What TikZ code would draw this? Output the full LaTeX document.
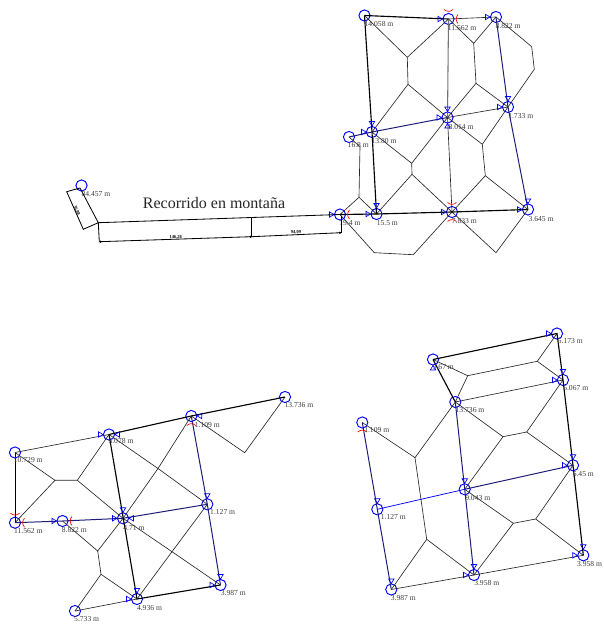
\documentclass[tikz,border=0pt]{standalone}
\usepackage{fontspec}
\setmainfont{Liberation Serif}
\usetikzlibrary{arrows.meta}
\definecolor{azulosc}{RGB}{30,30,120}
\definecolor{gristxt}{RGB}{60,60,60}
\tikzset{
  pozo/.style={circle,draw=blue,line width=0.7pt,minimum size=8.4pt,inner sep=0pt},
  cota/.style={text=gristxt,font=\fontsize{5.7}{6}\selectfont,inner sep=0pt},
  medida/.style={font=\bfseries\fontsize{3.4}{4}\selectfont,inner sep=0pt},
  fino/.style={line width=0.48pt,black!85},
  grueso/.style={line width=0.85pt,black},
  medio/.style={line width=0.62pt,black},
  azul/.style={line width=0.75pt,azulosc},
  tri/.pic={\draw[blue,line width=0.5pt] (-10.5,-2.7) -- (-10.5,2.7) -- (-6,0) -- cycle;},
  rojo/.pic={\draw[red,line width=0.5pt] (-9.5,-4.5) .. controls (-7,-1.5) and (-7,1.5) .. (-9.5,4.5);},
  arriba/.style={rotate=-90},
  abajo/.style={rotate=90},
  derecha/.style={rotate=180}
}
\begin{document}
\begin{tikzpicture}[x=0.75pt,y=-0.75pt]
\useasboundingbox (0,0) rectangle (603,624);
% plano superior
\node[pozo] (A) at (364.5,15.5) {};
\node[pozo] (B) at (448.5,19) {};
\node[pozo] (C) at (496,17) {};
\node[pozo] (D) at (508,107) {};
\node[pozo] (E) at (447.5,117.5) {};
\node[pozo] (F) at (372,132) {};
\node[pozo] (G) at (349,137) {};
\node[pozo] (H) at (340,214.5) {};
\node[pozo] (I) at (376.5,214) {};
\node[pozo] (J) at (452,212) {};
\node[pozo] (K) at (528,209.5) {};
\coordinate (n1) at (407.3,57.3);
\coordinate (n2) at (408,84.3);
\coordinate (n3) at (473.7,43.3);
\coordinate (n4) at (476,83.3);
\coordinate (n5) at (531.7,46.7);
\coordinate (n6) at (534.3,69.3);
\coordinate (n7) at (411.7,163.3);
\coordinate (n8) at (412,174.3);
\coordinate (n9) at (482.3,144.3);
\coordinate (n10) at (485.3,175.7);
\coordinate (n11) at (360,146.7);
\coordinate (n12) at (359,197.3);
\coordinate (n13) at (374.3,252.7);
\coordinate (n14) at (413.3,254.7);
\coordinate (n15) at (496,252.7);
\draw[fino] (A.center) -- (n1) -- (B.center);
\draw[fino] (n1) -- (n2) -- (F.center);
\draw[fino] (n2) -- (E.center);
\draw[fino] (B.center) -- (n3) -- (C.center);
\draw[fino] (n3) -- (n4) -- (E.center);
\draw[fino] (n4) -- (D.center);
\draw[fino] (C.center) -- (n5) -- (n6) -- (D.center);
\draw[fino] (F.center) -- (n7) -- (E.center);
\draw[fino] (n7) -- (n8) -- (I.center);
\draw[fino] (n8) -- (J.center);
\draw[fino] (E.center) -- (n9) -- (D.center);
\draw[fino] (n9) -- (n10) -- (J.center);
\draw[fino] (n10) -- (K.center);
\draw[fino] (G.center) -- (n11) -- (n12) -- (H.center);
\draw[fino] (n12) -- (I.center);
\draw[fino] (H.center) -- (n13) -- (n14) -- (J.center);
\draw[fino] (J.center) -- (n15) -- (K.center);
\draw[fino] (E.center) -- (D.center);
\draw[fino] (E.center) -- (J.center);
\draw[line width=0.8pt,black!55] (B.center) -- (E.center);
\draw[grueso] (A.center) -- (B.center);
\draw[fino] (B.center) -- (C.center);
\draw[grueso] (A.center) -- (F.center) -- (I.center);
\draw[azul] (C.center) -- (D.center) -- (K.center);
\draw[azul] (G.center) -- (F.center) -- (E.center);
\draw[grueso] (H.center) -- (I.center) -- (J.center) -- (K.center);
\path (B) pic {tri} pic[arriba] {rojo} pic[derecha] {rojo};
\path (C) pic {tri};
\path (D) pic {tri} pic[arriba] {tri};
\path (E) pic {tri} pic[arriba] {tri} pic[abajo] {tri};
\path (F) pic {tri} pic[arriba] {tri};
\path (H) pic {tri} pic[derecha] {rojo};
\path (I) pic {tri} pic[arriba] {tri};
\path (J) pic {tri} pic[arriba] {rojo} pic[abajo] {rojo};
\path (K) pic {tri} pic[arriba] {tri};
\node[cota] (tA) at (379,23.7) {14.058 m};
\node[cota] (tB) at (462,27.7) {11.562 m};
\node[cota] (tC) at (508,25.7) {8.822 m};
\node[cota] (tD) at (520.7,115.7) {1.733 m};
\node[cota] (tE) at (461,126.7) {8.014 m};
\node[cota] (tF) at (384,140.7) {13.80 m};
\node[cota] (tG) at (358.3,145.3) {16.8 m};
\node[cota] (tH) at (350,223.3) {19.4 m};
\node[cota] (tI) at (387.3,223.3) {15.5 m};
\node[cota] (tJ) at (464.3,220.7) {7.833 m};
\node[cota] (tK) at (541,219) {3.645 m};
% recorrido en montana
\node[pozo] (P) at (81.5,185.5) {};
\coordinate (m1) at (80,188);
\coordinate (m2) at (66.7,191.7);
\coordinate (m3) at (83.3,229.3);
\coordinate (m4) at (98.3,222.7);
\coordinate (m5) at (99.3,241.7);
\coordinate (m6) at (251.7,236.7);
\coordinate (m7) at (341,232.7);
\coordinate (m8) at (251.7,218.3);
\coordinate (m9) at (341,216);
\draw[medio] (m1) -- (m2) -- (m3) -- (m4) -- cycle;
\draw[medio] (m4) -- (H.center);
\draw[medio] (m4) -- (m5);
\draw[medio,{Circle[length=1.6pt]}-{Circle[length=1.6pt]}] (m5) -- (m6);
\draw[medio,-{Circle[length=1.6pt]}] (m6) -- (m7);
\draw[medio] (m8) -- (m6);
\draw[medio] (m9) -- (m7);
\node[medida,rotate=-66] (d1) at (76.7,210.7) {36,88};
\node[medida,rotate=2] (d2) at (175.7,237) {146,28};
\node[medida,rotate=2] (d3) at (296,232) {94,09};
\node[cota] (tP) at (96,194.3) {84.457 m};
\node[font=\fontsize{12}{14}\selectfont,text=black!85,inner sep=0pt] (titulo) at (214,203.3) {Recorrido en montaña};
% plano inferior izquierdo
\node[pozo] (a) at (15,452.5) {};
\node[pozo] (b) at (109,434.5) {};
\node[pozo] (c) at (15,522.7) {};
\node[pozo] (d) at (62.5,521) {};
\node[pozo] (e) at (123,518.3) {};
\node[pozo] (f) at (137,599) {};
\node[pozo] (g) at (75,611) {};
\node[pozo] (h) at (191.3,416) {};
\node[pozo] (i) at (285,397) {};
\node[pozo] (j) at (207.3,504.3) {};
\node[pozo] (k) at (220.5,585) {};
\coordinate (q1) at (55,480.3);
\coordinate (q2) at (77.3,480.3);
\coordinate (q3) at (97.7,551);
\coordinate (q4) at (101,574.3);
\coordinate (q5) at (158,468.5);
\coordinate (q6) at (172,551.7);
\coordinate (q7) at (244.7,452.7);
\draw[fino] (a.center) -- (b.center);
\draw[fino] (a.center) -- (q1) -- (c.center);
\draw[fino] (q1) -- (q2) -- (b.center);
\draw[fino] (q2) -- (e.center);
\draw[fino] (d.center) -- (q3) -- (e.center);
\draw[fino] (q3) -- (q4) -- (g.center);
\draw[fino] (q4) -- (f.center);
\draw[fino] (g.center) -- (f.center);
\draw[fino] (b.center) -- (q5) -- (j.center);
\draw[fino] (e.center) -- (q5) -- (h.center);
\draw[fino] (e.center) -- (q6) -- (k.center);
\draw[fino] (f.center) -- (q6) -- (j.center);
\draw[fino] (h.center) -- (q7) -- (i.center);
\draw[medio] (a.center) -- (c.center);
\draw[azul] (c.center) -- (d.center) -- (e.center) -- (j.center);
\draw[grueso] (b.center) -- (f.center) -- (k.center);
\draw[grueso] (b.center) -- (h.center) -- (i.center);
\draw[azul] (h.center) -- (j.center) -- (k.center);
\path (b) pic {tri} pic[derecha] {tri};
\path (c) pic[arriba] {rojo} pic[derecha] {rojo};
\path (d) pic {tri} pic[derecha] {rojo};
\path (e) pic {tri} pic[arriba] {tri} pic[derecha] {tri};
\path (f) pic {tri} pic[arriba] {tri};
\path (h) pic[derecha] {tri} pic[abajo] {rojo};
\path (j) pic[arriba] {tri};
\path (k) pic {tri} pic[arriba] {tri};
\node[cota] (ta) at (28.3,460.3) {10.729 m};
\node[cota] (tb) at (121,441.3) {5.078 m};
\node[cota] (tc) at (28.3,531.3) {11.562 m};
\node[cota] (td) at (74.3,529.7) {8.822 m};
\node[cota] (te) at (134,527.7) {4.71 m};
\node[cota] (tf) at (149.5,608.3) {4.936 m};
\node[cota] (tg) at (86.7,619.3) {5.733 m};
\node[cota] (th) at (207.3,424.7) {1.109 m};
\node[cota] (ti) at (299,405.3) {13.736 m};
\node[cota] (tj) at (222.7,512.3) {1.127 m};
\node[cota] (tk) at (233.3,593.3) {3.987 m};
% plano inferior derecho
\node[pozo] (p) at (433,359.5) {};
\node[pozo] (r) at (557,333.5) {};
\node[pozo] (s) at (563,380) {};
\node[pozo] (u) at (455.3,402) {};
\node[pozo] (v) at (362.3,422.5) {};
\node[pozo] (w) at (573,465.3) {};
\node[pozo] (x) at (377.3,509.3) {};
\node[pozo] (y) at (464.7,489.3) {};
\node[pozo] (z) at (391.3,589.5) {};
\node[pozo] (o) at (474,575) {};
\node[pozo] (l) at (583.3,555.3) {};
\coordinate (r1) at (467.7,375.7);
\coordinate (r2) at (537.3,361.3);
\coordinate (r3) at (503,436.7);
\coordinate (r4) at (526.7,432);
\coordinate (r5) at (415,457.7);
\coordinate (r6) at (426.7,539.3);
\coordinate (r7) at (513.3,523.3);
\coordinate (r8) at (535.7,519);
\draw[fino] (p.center) -- (r1) -- (u.center);
\draw[fino] (r1) -- (r2) -- (r.center);
\draw[fino] (r2) -- (s.center);
\draw[fino] (u.center) -- (s.center);
\draw[fino] (u.center) -- (r3) -- (r4) -- (s.center);
\draw[fino] (r4) -- (w.center);
\draw[fino] (r3) -- (y.center);
\draw[fino] (v.center) -- (r5) -- (u.center);
\draw[fino] (r5) -- (r6) -- (z.center);
\draw[fino] (r6) -- (o.center);
\draw[fino] (z.center) -- (o.center) -- (l.center);
\draw[fino] (y.center) -- (r7) -- (o.center);
\draw[fino] (r7) -- (r8) -- (w.center);
\draw[fino] (r8) -- (l.center);
\draw[grueso] (p.center) -- (r.center) -- (s.center) -- (w.center) -- (l.center);
\draw[grueso] (p.center) -- (u.center);
\draw[azul] (u.center) -- (y.center) -- (o.center);
\draw[azul] (v.center) -- (x.center) -- (z.center);
\draw[azul] (y.center) -- (w.center);
\draw[blue,line width=0.55pt] (x.center) -- (y.center);
\path (p) pic[abajo] {tri};
\path (r) pic {tri};
\path (s) pic {tri} pic[arriba] {tri};
\path (v) pic[abajo] {rojo};
\path (w) pic {tri} pic[arriba] {tri};
\path (x) pic[arriba] {tri};
\path (y) pic[arriba] {tri};
\path (z) pic[arriba] {tri};
\path (o) pic {tri} pic[arriba] {tri};
\path (l) pic {tri} pic[arriba] {tri};
\node[cota] (tp) at (443.3,367.3) {9.67 m};
\node[cota] (tr) at (570.3,341.3) {5.173 m};
\node[cota] (ts) at (575.7,388.3) {5.067 m};
\node[cota] (tu) at (470,410.3) {13.736 m};
\node[cota] (tv) at (376.7,429.7) {1.109 m};
\node[cota] (tw) at (583.3,474.3) {6.45 m};
\node[cota] (tx) at (393.3,517.3) {1.127 m};
\node[cota] (ty) at (477.7,498.3) {9.043 m};
\node[cota] (tz) at (403.3,598.3) {3.987 m};
\node[cota] (to) at (486.7,583.3) {3.958 m};
\node[cota] (tl) at (589.5,564) {3.958 m};
\end{tikzpicture}
\end{document}
